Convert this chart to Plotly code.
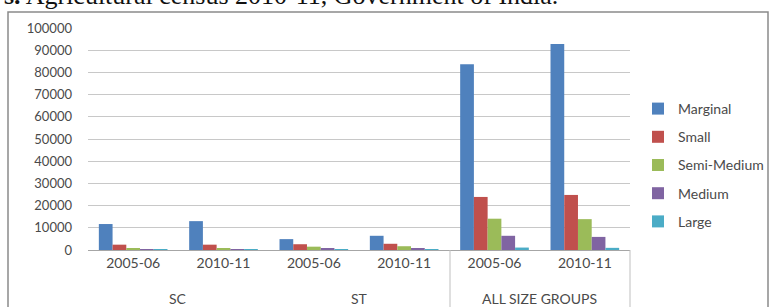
import plotly.graph_objects as go

# ---- data ----
groups = ["SC", "SC", "ST", "ST", "ALL SIZE GROUPS", "ALL SIZE GROUPS"]
years = ["2005-06", "2010-11", "2005-06", "2010-11", "2005-06", "2010-11"]
group_labels = ["SC", "ST", "ALL SIZE GROUPS"]

marginal = [11700, 13000, 4900, 6400, 83700, 92800]
small = [2400, 2400, 2600, 2800, 23900, 24800]
semi_medium = [900, 900, 1500, 1700, 14100, 13900]
medium = [350, 300, 700, 700, 6400, 5900]
large = [50, 40, 150, 130, 1100, 970]

series_names = ["Marginal", "Small", "Semi-Medium", "Medium", "Large"]
series_values = [marginal, small, semi_medium, medium, large]
colors = ["#4F81BD", "#C0504D", "#9BBB59", "#8064A2", "#4BACC6"]

ytick_vals = list(range(0, 100001, 10000))
ytick_text = [str(v) for v in ytick_vals]

# ---- geometry (pixels) ----
W, H = 769, 307
L, R, T, B = 88, 630, 28, 250
pw, ph = R - L, B - T


def px_x(p):
    return (p - L) / pw


def px_y(p):
    return (B - p) / ph


xpos = list(range(len(years)))

fig = go.Figure()
for i, (name, vals) in enumerate(zip(series_names, series_values)):
    fig.add_trace(go.Bar(
        x=xpos, y=vals, name=name, marker=dict(color=colors[i], line=dict(width=0)),
        legendgroup=name,
    ))

font_fam = "Lato, 'Open Sans', sans-serif"
txt_col = "#4a4a4a"

shapes = []
# outer chart border
shapes.append(dict(type="rect", xref="paper", yref="paper",
                   x0=px_x(8), x1=px_x(768), y0=px_y(320), y1=px_y(12),
                   line=dict(color="#8a8a8a", width=1.5), fillcolor="rgba(0,0,0,0)", layer="below"))
# group dividers below axis
for p in [450, 630]:
    shapes.append(dict(type="line", xref="paper", yref="paper",
                       x0=px_x(p), x1=px_x(p), y0=px_y(250), y1=px_y(320),
                       line=dict(color="#bfbfbf", width=1)))

annotations = []
# group labels
group_centers = {}
for i, g in enumerate(groups):
    group_centers.setdefault(g, []).append(i)
for g in group_labels:
    idx = group_centers[g]
    cx = sum(idx) / len(idx)
    annotations.append(dict(x=cx, xref="x", y=px_y(298), yref="paper", text=g,
                            showarrow=False, xanchor="center", yanchor="middle",
                            font=dict(family=font_fam, size=14, color=txt_col)))
# clipped source line at top
annotations.append(dict(x=px_x(2), xref="paper", y=px_y(-4), yref="paper",
                        text="<b>s.</b> Agricultural census 2010-11, Government of India.",
                        showarrow=False, xanchor="left", yanchor="middle",
                        font=dict(family="Liberation Serif, 'Times New Roman', serif", size=26, color="#111111")))

fig.update_layout(
    width=W, height=H,
    margin=dict(l=L, r=W - R, t=T, b=H - B, pad=0, autoexpand=False),
    paper_bgcolor="white", plot_bgcolor="white",
    barmode="group", bargap=0.24, bargroupgap=0,
    showlegend=True,
    legend=dict(x=px_x(638), y=px_y(93), xanchor="left", yanchor="top",
                font=dict(family=font_fam, size=14, color=txt_col),
                tracegroupgap=7, itemsizing="constant", bgcolor="rgba(0,0,0,0)"),
    xaxis=dict(tickmode="array", tickvals=xpos, ticktext=years, range=[-0.5, len(years) - 0.5],
               showgrid=False, showline=True, linecolor="#a6a6a6", linewidth=1,
               ticks="", tickfont=dict(family=font_fam, size=14, color=txt_col),
               zeroline=False, fixedrange=True, automargin=False),
    yaxis=dict(tickmode="array", tickvals=ytick_vals, ticktext=ytick_text, range=[0, 100000],
               showgrid=True, gridcolor="#c8c8c8", gridwidth=1, showline=False,
               ticks="", ticklabelstandoff=15,
               tickfont=dict(family=font_fam, size=13, color=txt_col),
               zeroline=False, fixedrange=True, automargin=False),
    shapes=shapes, annotations=annotations,
)

fig.write_html("out.html", config={"displayModeBar": False},
               post_script="document.body.style.margin='0';document.body.style.padding='0';document.body.style.overflow='hidden';")
